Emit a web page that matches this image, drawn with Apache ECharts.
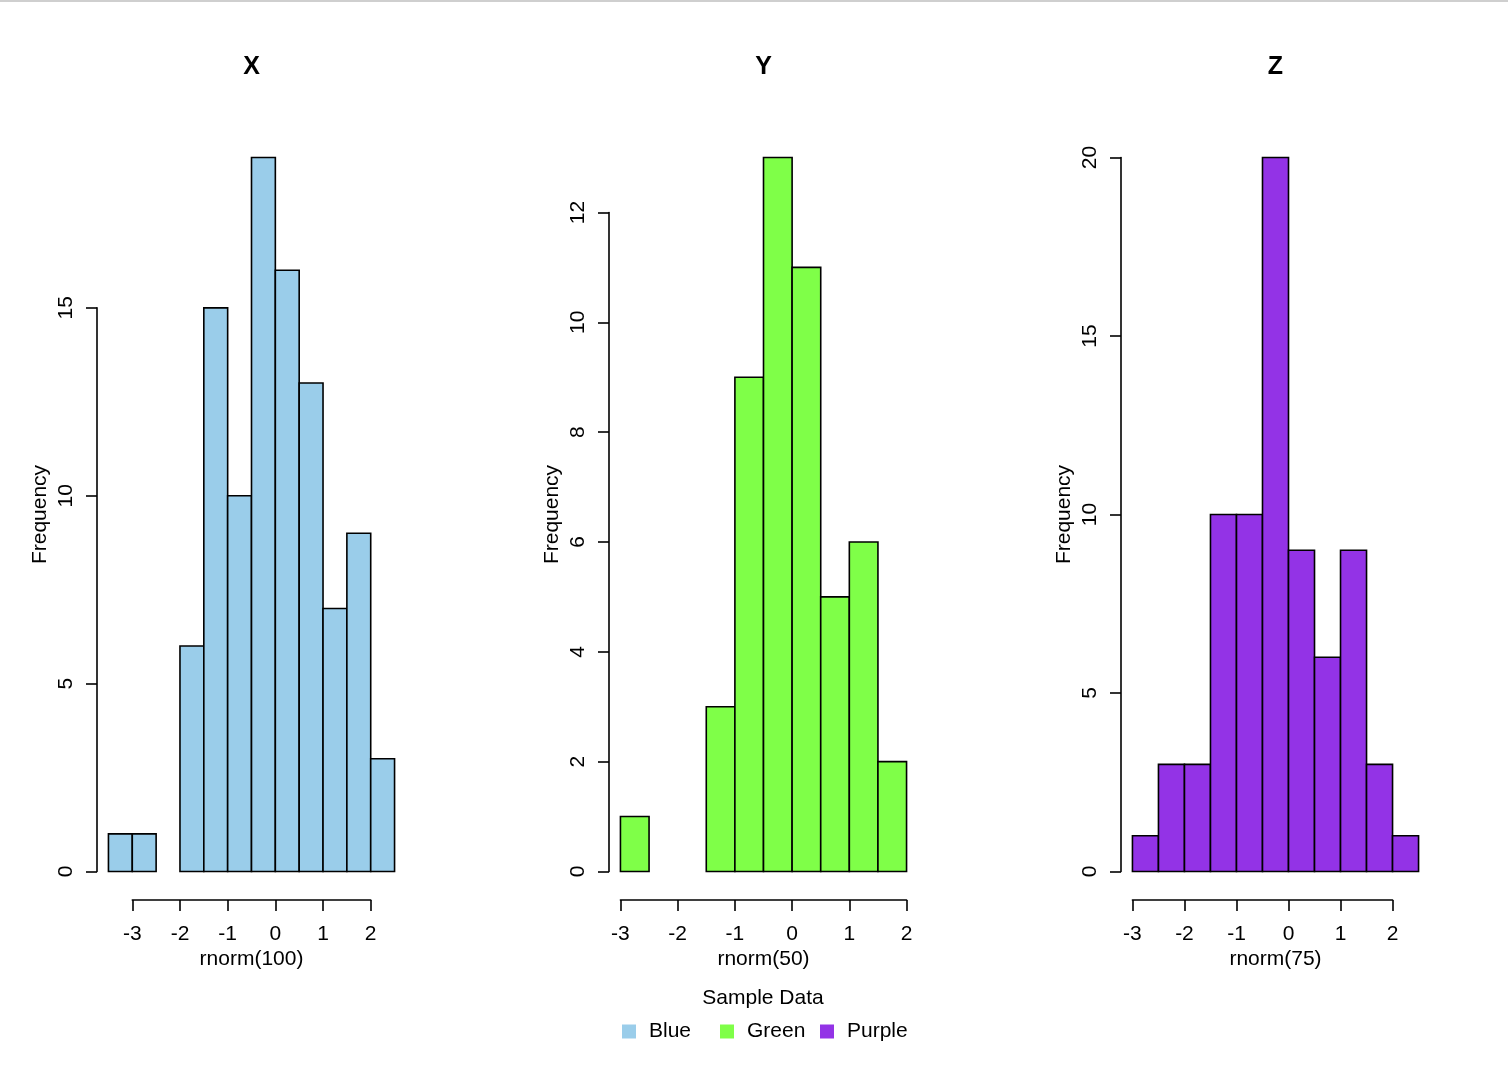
<!DOCTYPE html>
<html>
<head>
<meta charset="utf-8">
<script src="https://cdn.jsdelivr.net/npm/echarts@6/dist/echarts.min.js"></script>
<style>
html,body{margin:0;padding:0;background:#fff;}
#chart{width:1508px;height:1068px;}
</style>
</head>
<body>
<div id="chart"></div>
<script>
// ---- Data ----
const panelTitles = ['X', 'Y', 'Z'];
const xAxisNames = ['rnorm(100)', 'rnorm(50)', 'rnorm(75)'];
const seriesNames = ['Blue', 'Green', 'Purple'];
const seriesColors = ['#9ACDEA', '#7FFF48', '#9333E6'];

const xBreaks = [-3.5, -3, -2.5, -2, -1.5, -1, -0.5, 0, 0.5, 1, 1.5, 2, 2.5];
const xCounts = [1, 1, 0, 6, 15, 10, 19, 16, 13, 7, 9, 3];

const yBreaks = [-3, -2.5, -2, -1.5, -1, -0.5, 0, 0.5, 1, 1.5, 2];
const yCounts = [1, 0, 0, 3, 9, 13, 11, 5, 6, 2];

const zBreaks = [-3, -2.5, -2, -1.5, -1, -0.5, 0, 0.5, 1, 1.5, 2, 2.5];
const zCounts = [1, 3, 3, 10, 10, 20, 9, 6, 9, 3, 1];

const xTicksX = [-3, -2, -1, 0, 1, 2];
const xTicksY = [-3, -2, -1, 0, 1, 2];
const xTicksZ = [-3, -2, -1, 0, 1, 2];
const yTicksX = [0, 5, 10, 15];
const yTicksY = [0, 2, 4, 6, 8, 10, 12];
const yTicksZ = [0, 5, 10, 15, 20];

const legendTitle = 'Sample Data';

// ---- Layout ----
const FONT = '"Liberation Sans", Arial, Helvetica, sans-serif';
const FS = 21;
const plotLefts = [97, 609, 1121];
const PW = 309, PT = 129, PB = 900, PH = PB - PT;
const LINE_W = 1.6;

const panels = [
  {breaks: xBreaks, counts: xCounts, xt: xTicksX, yt: yTicksX},
  {breaks: yBreaks, counts: yCounts, xt: xTicksY, yt: yTicksY},
  {breaks: zBreaks, counts: zCounts, xt: xTicksZ, yt: yTicksZ}
];

const grids = [], xAxes = [], yAxes = [], series = [], titles = [], legends = [];
const hiddenAxis = (extra) => Object.assign({
  type: 'value', axisLine: {show: false}, axisTick: {show: false},
  axisLabel: {show: false}, splitLine: {show: false}
}, extra);

panels.forEach((p, i) => {
  const L = plotLefts[i];
  const bmin = p.breaks[0], bmax = p.breaks[p.breaks.length - 1];
  const ext = 0.04 * (bmax - bmin);
  const x0 = bmin - ext, x1 = bmax + ext;
  const cmax = Math.max(...p.counts);
  const y0 = -0.04 * cmax, y1 = cmax * 1.04;

  // plot grid
  const gi = grids.length;
  grids.push({left: L, top: PT, width: PW, height: PH, outerBoundsMode: 'none', containLabel: false});
  xAxes.push(hiddenAxis({gridIndex: gi, min: x0, max: x1, show: true,
    name: xAxisNames[i], nameLocation: 'middle', nameGap: 49,
    nameTextStyle: {fontSize: FS, color: '#000', fontFamily: FONT}}));
  yAxes.push(hiddenAxis({gridIndex: gi, min: y0, max: y1, show: true,
    name: 'Frequency', nameLocation: 'middle', nameGap: 46, nameRotate: 90,
    nameTextStyle: {fontSize: FS, color: '#000', fontFamily: FONT}}));

  const data = p.counts.map((c, k) => [p.breaks[k], p.breaks[k + 1], c]);
  series.push({
    type: 'custom', name: seriesNames[i], xAxisIndex: gi, yAxisIndex: gi,
    itemStyle: {color: seriesColors[i]},
    data: data,
    encode: {x: [0, 1], y: 2},
    renderItem: function (params, api) {
      const c = api.value(2);
      if (c <= 0) return null;
      const a = api.coord([api.value(0), 0]);
      const b = api.coord([api.value(1), c]);
      return {
        type: 'rect',
        shape: {x: a[0], y: b[1], width: b[0] - a[0], height: a[1] - b[1]},
        style: {fill: seriesColors[i], stroke: '#000', lineWidth: LINE_W}
      };
    }
  });

  // x axis grid (spans tick range only)
  const xt0 = p.xt[0], xt1 = p.xt[p.xt.length - 1];
  const gx = grids.length;
  grids.push({
    left: L + (xt0 - x0) / (x1 - x0) * PW,
    width: (xt1 - xt0) / (x1 - x0) * PW,
    top: PT, height: PH, outerBoundsMode: 'none', containLabel: false
  });
  xAxes.push({
    gridIndex: gx, type: 'value', min: xt0, max: xt1, interval: p.xt[1] - p.xt[0],
    position: 'bottom',
    axisLine: {show: true, lineStyle: {color: '#000', width: LINE_W}},
    axisTick: {show: true, length: 11, lineStyle: {color: '#000', width: LINE_W}},
    axisLabel: {show: true, margin: 24, fontSize: FS, color: '#000', fontFamily: FONT},
    splitLine: {show: false}
  });
  yAxes.push(hiddenAxis({gridIndex: gx, min: 0, max: 1, show: false}));

  // y axis grid (spans tick range only)
  const yt0 = p.yt[0], yt1 = p.yt[p.yt.length - 1];
  const gy = grids.length;
  grids.push({
    left: L, width: PW,
    top: PT + (y1 - yt1) / (y1 - y0) * PH,
    height: (yt1 - yt0) / (y1 - y0) * PH,
    outerBoundsMode: 'none', containLabel: false
  });
  xAxes.push(hiddenAxis({gridIndex: gy, min: 0, max: 1, show: false}));
  yAxes.push({
    gridIndex: gy, type: 'value', min: yt0, max: yt1, interval: p.yt[1] - p.yt[0],
    position: 'left',
    axisLine: {show: true, lineStyle: {color: '#000', width: LINE_W}},
    axisTick: {show: true, length: 11, lineStyle: {color: '#000', width: LINE_W}},
    axisLabel: {show: true, rotate: 90, margin: 20, fontSize: FS, color: '#000', fontFamily: FONT},
    splitLine: {show: false}
  });

  titles.push({
    text: panelTitles[i], left: L + PW / 2, top: 55, textAlign: 'center', padding: 0,
    textStyle: {fontSize: 25, fontWeight: 'bold', color: '#000', fontFamily: FONT}
  });
});

titles.push({
  text: legendTitle, left: 763, top: 988, textAlign: 'center', padding: 0,
  textStyle: {fontSize: FS, fontWeight: 'normal', color: '#000', fontFamily: FONT}
});

const legendLefts = [622, 720, 820];
seriesNames.forEach((n, i) => {
  legends.push({
    data: [n], left: legendLefts[i], top: 1021, padding: 0,
    icon: 'rect', itemWidth: 14, itemHeight: 14,
    itemStyle: {borderWidth: 0},
    textStyle: {fontSize: FS, color: '#000', fontFamily: FONT, padding: [0, 0, 0, 8]}
  });
});

const chart = echarts.init(document.getElementById('chart'));
chart.setOption({
  backgroundColor: '#fff',
  animation: false,
  title: titles,
  legend: legends,
  grid: grids,
  xAxis: xAxes,
  yAxis: yAxes,
  series: series,
  graphic: [{
    type: 'rect', left: 0, top: 0, shape: {width: 1508, height: 2},
    style: {fill: '#cfcfcf'}, silent: true
  }]
});
</script>
</body>
</html>
